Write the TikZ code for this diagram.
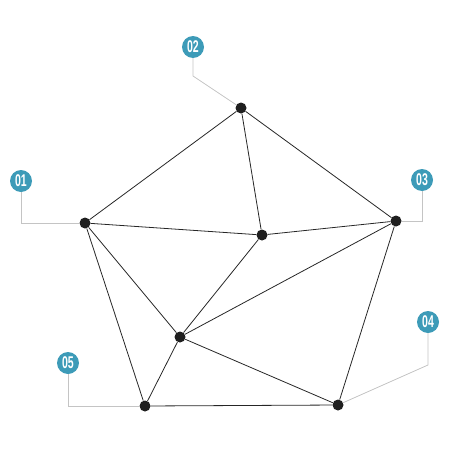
\documentclass[tikz,border=0pt]{standalone}
\usepackage{fontspec}
\setmainfont{Liberation Sans}
\usepackage{tikz}
\usetikzlibrary{positioning}

\definecolor{tagblue}{HTML}{3D9BB8}
\definecolor{leadgray}{HTML}{C4C4C4}

\begin{document}
\begin{tikzpicture}[x=1pt,y=-1pt,
  dot/.style={circle,fill=black!88,inner sep=0pt,minimum size=11pt},
  tag/.style={circle,fill=tagblue,text=white,inner sep=0pt,minimum size=22pt,font=\fontsize{17}{17}\selectfont\bfseries},
  edge/.style={draw=black!85,line width=0.8pt},
  lead/.style={draw=leadgray,line width=0.8pt}]
\useasboundingbox (0,0) rectangle (450,450);
\node[dot] (TOP) at (241,108) {};
\node[dot] (LEFT) at (85,223) {};
\node[dot] (RIGHT) at (396,221) {};
\node[dot] (MIDUP) at (262,235) {};
\node[dot] (MIDLOW) at (180,337) {};
\node[dot] (BOTL) at (145,406) {};
\node[dot] (BOTR) at (338,405) {};
\node[tag] (TAG01) at (21,181) {\scalebox{0.62}[1]{01}};
\node[tag] (TAG02) at (193,47) {\scalebox{0.62}[1]{02}};
\node[tag] (TAG03) at (422,180) {\scalebox{0.62}[1]{03}};
\node[tag] (TAG04) at (428,322) {\scalebox{0.62}[1]{04}};
\node[tag] (TAG05) at (68,363) {\scalebox{0.62}[1]{05}};
\coordinate (BEND01) at (21,223);
\coordinate (BEND02) at (193,76);
\coordinate (BEND03) at (422,221);
\coordinate (BEND04) at (428,365);
\coordinate (BEND05) at (68,406);
% leader lines
\draw[lead] (TAG01) -- (BEND01) -- (LEFT);
\draw[lead] (TAG02) -- (BEND02) -- (TOP);
\draw[lead] (TAG03) -- (BEND03) -- (RIGHT);
\draw[lead] (TAG04) -- (BEND04) -- (BOTR);
\draw[lead] (TAG05) -- (BEND05) -- (BOTL);
% graph
\draw[edge] (TOP) -- (LEFT);
\draw[edge] (TOP) -- (RIGHT);
\draw[edge] (TOP) -- (MIDUP);
\draw[edge] (LEFT) -- (MIDUP);
\draw[edge] (MIDUP) -- (RIGHT);
\draw[edge] (LEFT) -- (MIDLOW);
\draw[edge] (LEFT) -- (BOTL);
\draw[edge] (MIDUP) -- (MIDLOW);
\draw[edge] (MIDLOW) -- (RIGHT);
\draw[edge] (MIDLOW) -- (BOTL);
\draw[edge] (MIDLOW) -- (BOTR);
\draw[edge] (BOTL) -- (BOTR);
\draw[edge] (RIGHT) -- (BOTR);
\end{tikzpicture}
\end{document}
